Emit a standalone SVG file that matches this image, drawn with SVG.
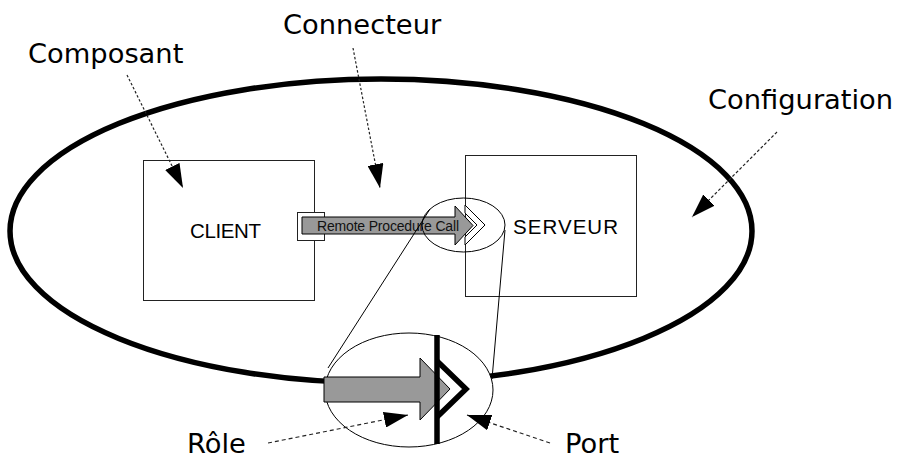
<svg xmlns="http://www.w3.org/2000/svg" width="898" height="459" viewBox="0 0 898 459">
<style>
.lbl{font-family:"DejaVu Sans",sans-serif;font-size:27.3px;fill:#000}
.box{fill:#fff;stroke:#222;stroke-width:1}
.name{font-family:"Liberation Sans",Arial,sans-serif;font-size:20.5px;fill:#000}
.thin{fill:none;stroke:#000;stroke-width:1}
.dash{fill:none;stroke:#222;stroke-width:1.2;marker-end:url(#ah)}
.gray{fill:#999;stroke:#000;stroke-width:1}
</style>
<defs>
<marker id="ah" markerUnits="userSpaceOnUse" viewBox="0 0 24 16" refX="24" refY="8" markerWidth="24" markerHeight="16" orient="auto">
<path d="M0,0 L24,8 L0,16 z" fill="#000"/>
</marker>
</defs>
<g id="configuration">
<ellipse cx="381" cy="231" rx="371" ry="152" fill="none" stroke="#000" stroke-width="5.5"/>
</g>
<g id="client">
<rect class="box" x="143.5" y="160.5" width="171" height="140"/>
<text class="name" x="190" y="238" textLength="71">CLIENT</text>
</g>
<g id="serveur">
<rect class="box" x="465.5" y="155.5" width="171" height="141"/>
<text class="name" x="513" y="234" textLength="105">SERVEUR</text>
</g>
<g id="rpc">
<rect class="box" x="297.5" y="212.5" width="27" height="28"/>
<path class="gray" d="M302,217 L455,217 L455,206 L473,225.5 L455,245 L455,234 L302,234 z"/>
<text x="317" y="231" font-family="Liberation Sans,Arial,sans-serif" font-size="14" textLength="142" fill="#111">Remote Procedure Call</text>
<path d="M465,205 L485,225 L465,245 L465,237 L477,225 L465,213 z" fill="#fff" stroke="#000" stroke-width="1"/>
<ellipse class="thin" cx="463.5" cy="225" rx="41.5" ry="27"/>
</g>
<g id="connectors">
<line class="thin" x1="430" y1="209" x2="328" y2="368"/>
<line class="thin" x1="505" y1="230" x2="492" y2="379"/>
<path class="dash" d="M127,75 L183,188" stroke-dasharray="2.5,2"/>
<path class="dash" d="M353,48 L380,188" stroke-dasharray="2.5,2"/>
<path class="dash" d="M777,132 L692,217" stroke-dasharray="3,2"/>
</g>
<g id="zoom">
<ellipse cx="409" cy="390" rx="84" ry="57" fill="#fff" stroke="#000" stroke-width="1"/>
<path class="gray" d="M324,377 L420,377 L420,358 L450,389 L420,420 L420,402 L324,402 z"/>
<line x1="437" y1="335" x2="437" y2="444" stroke="#000" stroke-width="5.5"/>
<polyline points="437,361 466,389 437,417" fill="none" stroke="#000" stroke-width="5.5"/>
</g>
<g id="role-port-connectors">
<path class="dash" d="M268,443 L408,415" stroke-dasharray="4,3"/>
<path class="dash" d="M550,443 L467,415" stroke-dasharray="4,3"/>
</g>
<g id="labels">
<text class="lbl" x="28" y="62.5">Composant</text>
<text class="lbl" x="283" y="34">Connecteur</text>
<text class="lbl" x="708" y="109">Configuration</text>
<text class="lbl" x="187" y="452.5">Rôle</text>
<text class="lbl" x="565" y="452.5">Port</text>
</g>
</svg>
